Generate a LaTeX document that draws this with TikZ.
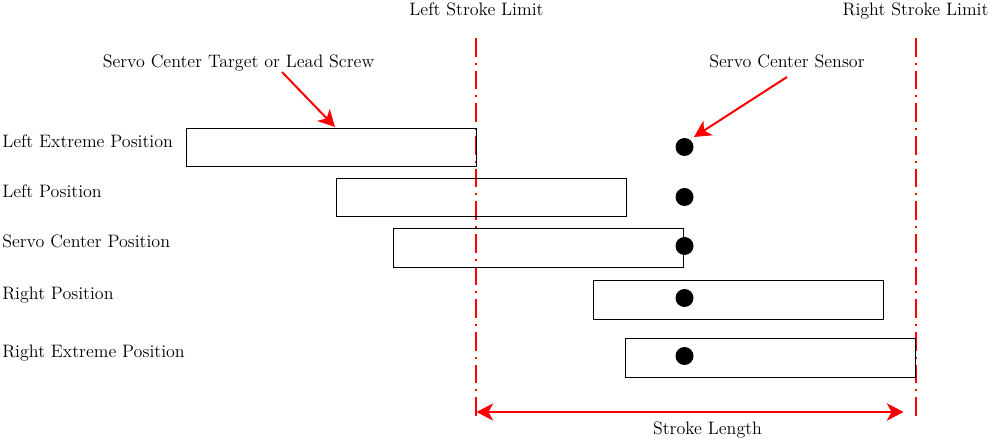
\documentclass[tikz,border=0pt]{standalone}
\usetikzlibrary{arrows.meta}
\begin{document}
\begin{tikzpicture}[x=0.75pt,y=-0.75pt,
  lbl/.style={inner sep=0pt,font=\fontsize{13.5}{16}\selectfont},
  rod/.style={draw=black,line width=0.7pt},
  sensor/.style={circle,fill=black,minimum size=13.5pt,inner sep=0pt},
  limitline/.style={draw=red,line width=0.8pt,dash pattern=on 14pt off 4.5pt on 1.5pt off 4.5pt},
  redarrow/.style={draw=red,line width=1.5pt,-{Stealth[length=12.5pt,width=13pt,inset=3.5pt]}},
  dblarrow/.style={draw=red,line width=1.5pt,{Stealth[length=12.5pt,width=13pt,inset=3.5pt]}-{Stealth[length=12.5pt,width=13pt,inset=3.5pt]}}
]
\useasboundingbox (0,0) rectangle (990,441);
% limit lines
\coordinate (LLtop) at (476,38);
\coordinate (LLbot) at (476,418);
\coordinate (RLtop) at (916,38);
\coordinate (RLbot) at (916,418);
\draw[limitline] (LLtop) -- (LLbot);
\draw[limitline] (RLtop) -- (RLbot);
\node[lbl,anchor=base] (LLlab) at (476.5,16) {Left Stroke Limit};
\node[lbl,anchor=base] (RLlab) at (915.5,16) {Right Stroke Limit};
% rods
\draw[rod] (186,128) rectangle (476,166);
\draw[rod] (336,178) rectangle (626,216);
\draw[rod] (393,228) rectangle (683,267);
\draw[rod] (593,280) rectangle (883,319);
\draw[rod] (625,338) rectangle (915,377);
% sensors
\node[sensor] (s1) at (684.5,147) {};
\node[sensor] (s2) at (684.5,197) {};
\node[sensor] (s3) at (684.5,246) {};
\node[sensor] (s4) at (684.5,298) {};
\node[sensor] (s5) at (684.5,356) {};
% row labels
\node[lbl,anchor=base west] (p1) at (2,148) {Left Extreme Position};
\node[lbl,anchor=base west] (p2) at (2,198) {Left Position};
\node[lbl,anchor=base west] (p3) at (2,248) {Servo Center Position};
\node[lbl,anchor=base west] (p4) at (2,300) {Right Position};
\node[lbl,anchor=base west] (p5) at (2,358) {Right Extreme Position};
% callouts
\node[lbl,anchor=base] (tgt) at (238.5,68) {Servo Center Target or Lead Screw};
\node[lbl,anchor=base] (sen) at (787,68) {Servo Center Sensor};
\coordinate (tgtA) at (282,72);
\coordinate (tgtB) at (335,127);
\coordinate (senA) at (787,77);
\coordinate (senB) at (694,137);
\draw[redarrow] (tgtA) -- (tgtB);
\draw[redarrow] (senA) -- (senB);
% stroke length
\coordinate (SL1) at (476.5,412);
\coordinate (SL2) at (903.5,412);
\draw[dblarrow] (SL1) -- (SL2);
\node[lbl,anchor=base] (sll) at (707.5,435) {Stroke Length};
\end{tikzpicture}
\end{document}
